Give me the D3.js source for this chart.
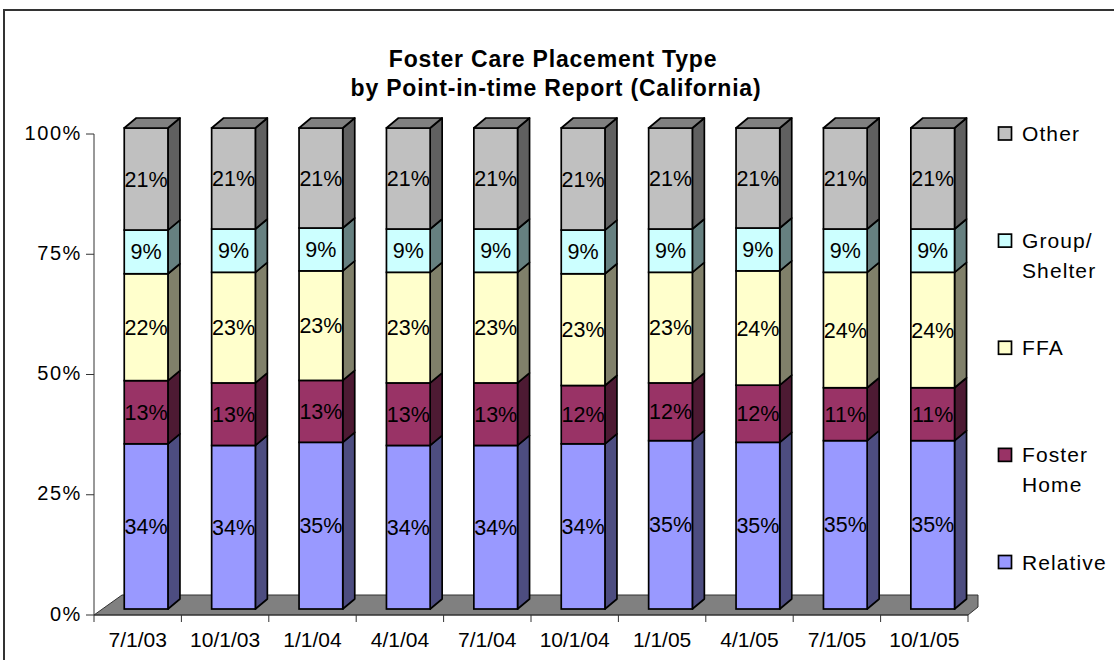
<!DOCTYPE html>
<html>
<head>
<meta charset="utf-8">
<script src="https://cdn.jsdelivr.net/npm/d3@7"></script>
<style>
  body { margin: 0; background: #fff; }
  svg { display: block; font-family: "Liberation Sans", Arial, sans-serif; }
</style>
</head>
<body>
<div id="chart"></div>
<script>
// Data (percent of placements, as labelled)
const dates = ["7/1/03", "10/1/03", "1/1/04", "4/1/04", "7/1/04", "10/1/04", "1/1/05", "4/1/05", "7/1/05", "10/1/05"];
const relative     = [34, 34, 35, 34, 34, 34, 35, 35, 35, 35];
const fosterHome   = [13, 13, 13, 13, 13, 12, 12, 12, 11, 11];
const ffa          = [22, 23, 23, 23, 23, 23, 23, 24, 24, 24];
const groupShelter = [9, 9, 9, 9, 9, 9, 9, 9, 9, 9];
const other        = [21, 21, 21, 21, 21, 21, 21, 21, 21, 21];
const yTicks = [0, 0.25, 0.5, 0.75, 1];

const keys = ["relative", "fosterHome", "ffa", "groupShelter", "other"];
const legendLines = {
  relative: ["Relative"],
  fosterHome: ["Foster", "Home"],
  ffa: ["FFA"],
  groupShelter: ["Group/", "Shelter"],
  other: ["Other"]
};
const frontColor = { relative: "#9999ff", fosterHome: "#993366", ffa: "#ffffcc", groupShelter: "#ccffff", other: "#c0c0c0" };
const sideColor  = { relative: "#4d4d80", fosterHome: "#4d1a33", ffa: "#80806a", groupShelter: "#668080", other: "#606060" };

const rows = dates.map((d, i) => ({
  date: d,
  relative: relative[i],
  fosterHome: fosterHome[i],
  ffa: ffa[i],
  groupShelter: groupShelter[i],
  other: other[i]
}));

const drawChart = () => {

  // Dimensions
  const width = 1114;
  const height = 660;
  const left = 94, right = 968, bottom = 615, top = 134;

  // depth offsets (3D look)
  const barShiftX = 8.4, barShiftY = -6;
  const depthX = 12, depthY = -10;
  const sw = 1.7;

  const x = d3.scaleBand()
    .domain(dates)
    .range([left, right])
    .paddingInner(0.5)
    .paddingOuter(0.25);

  const y = d3.scaleLinear()
    .domain([0, 1])
    .range([bottom, top]);

  const stacked = d3.stack()
    .keys(keys)
    .offset(d3.stackOffsetExpand)(rows);

  const svg = d3.select("#chart")
    .append("svg")
      .attr("width", width)
      .attr("height", height)
      .attr("viewBox", `0 0 ${width} ${height}`);

  // chart frame
  svg.append("rect")
    .attr("x", 4)
    .attr("y", 10)
    .attr("width", 1200)
    .attr("height", 800)
    .attr("fill", "none")
    .attr("stroke", "#333")
    .attr("stroke-width", 2);

  // Title
  const title = svg.append("text")
    .attr("text-anchor", "middle")
    .style("font-size", "23px")
    .style("font-weight", "bold")
    .style("letter-spacing", "0.8px");
  title.append("tspan").attr("x", 553).attr("y", 67).text("Foster Care Placement Type");
  title.append("tspan").attr("x", 556).attr("y", 96).text("by Point-in-time Report (California)");

  // Floor
  const floorDx = 28, floorDy = -20;
  svg.append("path")
    .attr("d", `M${left},${bottom} L${left + floorDx},${bottom + floorDy} L${right + 10},${bottom + floorDy} L${right + 10},${bottom - 8} L${right},${bottom} Z`)
    .attr("fill", "#808080")
    .attr("stroke", "#333")
    .attr("stroke-width", 1);

  // Bars
  const layers = svg.selectAll(".layer")
    .data(stacked)
    .join("g")
      .attr("class", "layer");

  const segs = layers.selectAll(".seg")
    .data(s => s.map(d => ({ key: s.key, d })))
    .join("g")
      .attr("class", "seg");

  const x0 = o => x(o.d.data.date) + barShiftX;
  const x1 = o => x0(o) + x.bandwidth();
  const yT = o => y(o.d[1]) + barShiftY;
  const yB = o => y(o.d[0]) + barShiftY;

  segs.append("path")
    .attr("d", o => `M${x1(o)},${yT(o)} L${x1(o) + depthX},${yT(o) + depthY} L${x1(o) + depthX},${yB(o) + depthY} L${x1(o)},${yB(o)} Z`)
    .attr("fill", o => sideColor[o.key])
    .attr("stroke", "#000")
    .attr("stroke-width", sw)
    .attr("stroke-linejoin", "round");

  segs.append("rect")
    .attr("x", x0)
    .attr("y", yT)
    .attr("width", x.bandwidth())
    .attr("height", o => yB(o) - yT(o))
    .attr("fill", o => frontColor[o.key])
    .attr("stroke", "#000")
    .attr("stroke-width", sw);

  // top faces
  segs.filter(o => o.key === "other")
    .append("path")
      .attr("d", o => `M${x0(o)},${yT(o)} L${x0(o) + depthX},${yT(o) + depthY} L${x1(o) + depthX},${yT(o) + depthY} L${x1(o)},${yT(o)} Z`)
      .attr("fill", "#808080")
      .attr("stroke", "#000")
      .attr("stroke-width", sw)
      .attr("stroke-linejoin", "round");

  segs.append("text")
    .attr("x", o => x0(o) + x.bandwidth() / 2)
    .attr("y", o => (yT(o) + yB(o)) / 2 + 7.5)
    .attr("text-anchor", "middle")
    .style("font-size", "21.5px")
    .attr("fill", "#000")
    .text(o => o.d.data[o.key] + "%");

  // Y axis
  const yAxis = svg.append("g");
  yAxis.append("line")
    .attr("x1", left).attr("x2", left)
    .attr("y1", top).attr("y2", bottom)
    .attr("stroke", "#333");
  yAxis.selectAll(".ytick")
    .data(yTicks)
    .join("line")
      .attr("x1", left - 8).attr("x2", left)
      .attr("y1", d => y(d)).attr("y2", d => y(d))
      .attr("stroke", "#333");
  yAxis.selectAll(".ylabel")
    .data(yTicks)
    .join("text")
      .attr("x", 82)
      .attr("y", d => y(d) + 5.5)
      .attr("text-anchor", "end")
      .style("font-size", "20px")
      .style("letter-spacing", "1.6px")
      .text(d => d3.format(".0%")(d));

  // X axis
  const xAxis = svg.append("g");
  xAxis.append("line")
    .attr("x1", left).attr("x2", right)
    .attr("y1", bottom).attr("y2", bottom)
    .attr("stroke", "#333");
  const bounds = dates.map(d => x(d) - x.step() * 0.25).concat([right]);
  xAxis.selectAll(".xtick")
    .data(bounds)
    .join("line")
      .attr("x1", d => d).attr("x2", d => d)
      .attr("y1", bottom).attr("y2", bottom + 7)
      .attr("stroke", "#333");
  xAxis.selectAll(".xlabel")
    .data(dates)
    .join("text")
      .attr("x", d => x(d) + x.bandwidth() / 2)
      .attr("y", 647)
      .attr("text-anchor", "middle")
      .style("font-size", "21px")
      .text(d => d);

  // Legend (top to bottom: Other ... Relative)
  const legendKeys = keys.slice().reverse();
  const legendY = d3.scalePoint()
    .domain(legendKeys)
    .range([133.5, 562]);

  const legend = svg.selectAll(".legend")
    .data(legendKeys)
    .join("g")
      .attr("class", "legend")
      .attr("transform", d => `translate(998, ${legendY(d)})`);

  legend.append("rect")
    .attr("x", 0.5)
    .attr("y", -6.5)
    .attr("width", 13)
    .attr("height", 13)
    .attr("fill", d => frontColor[d])
    .attr("stroke", "#000")
    .attr("stroke-width", sw);

  legend.append("text")
    .style("font-size", "21px")
    .style("letter-spacing", "1.1px")
    .selectAll("tspan")
    .data(d => legendLines[d])
    .join("tspan")
      .attr("x", 24)
      .attr("y", (d, i) => 7.5 + i * 30)
      .text(d => d);
};

drawChart();
</script>
</body>
</html>
